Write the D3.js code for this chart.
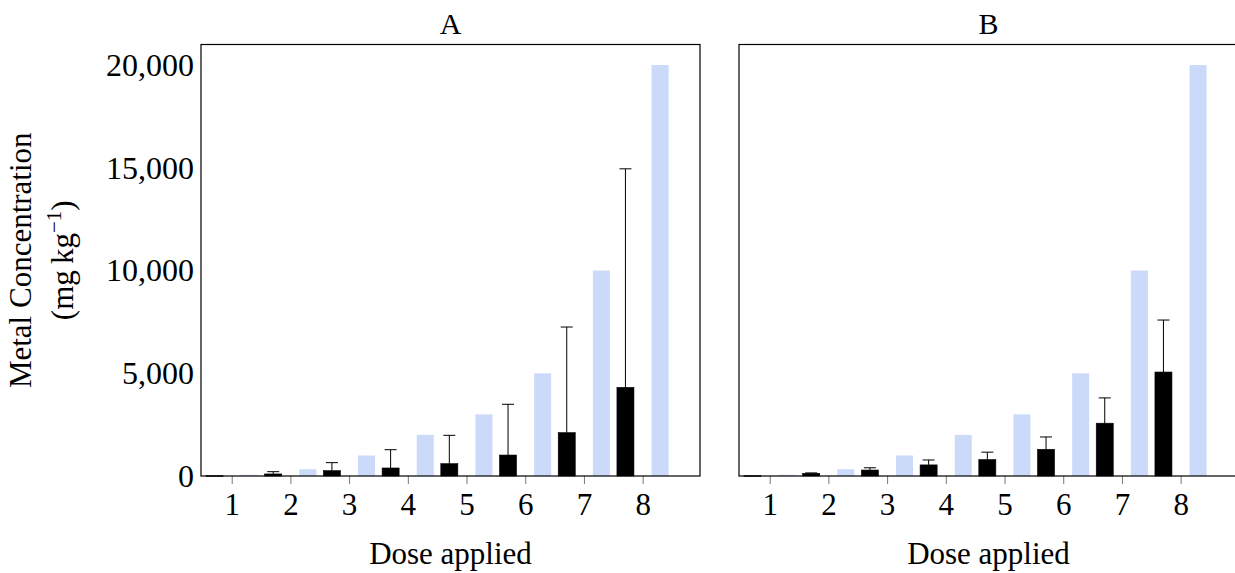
<!DOCTYPE html>
<html>
<head>
<meta charset="utf-8">
<script src="https://cdn.jsdelivr.net/npm/d3@7"></script>
<style>
  html, body { margin: 0; padding: 0; background: #fff; }
  svg { display: block; }
  text { font-family: "Liberation Serif", "DejaVu Serif", serif; fill: #000; }
</style>
</head>
<body>
<svg id="chart" width="1235" height="573"></svg>
<script>
// ---- data ----
const doses = [1, 2, 3, 4, 5, 6, 7, 8];
const appliedDose = [60, 330, 1000, 2000, 3000, 5000, 10000, 20000];
const metalA = [15, 100, 260, 390, 600, 1020, 2110, 4315];
const errA = [0, 110, 390, 890, 1380, 2470, 5140, 10635];
const metalB = [15, 130, 290, 540, 800, 1300, 2570, 5060];
const errB = [0, 20, 110, 240, 360, 600, 1230, 2530];
const yTicks = [0, 5000, 10000, 15000, 20000];
const panelTitles = ["A", "B"];
const xTitle = "Dose applied";

// ---- layout ----
const svg = d3.select("#chart");
const panels = [
  { title: panelTitles[0], left: 201, metal: metalA, err: errA, showY: true },
  { title: panelTitles[1], left: 739, metal: metalB, err: errB, showY: false }
];
const pw = 499, plotTop = 44.5, plotBottom = 476;
const y = d3.scaleLinear().domain([0, 21000]).range([plotBottom, plotTop]);
const blue = "#ccdafa";

panels.forEach(p => {
  const x = d3.scaleLinear().domain([0.477, 8.977]).range([p.left, p.left + pw]);
  const g = svg.append("g");
  const unit = x(2) - x(1);
  const bw = 0.29 * unit;
  const rows = doses.map((d, i) => ({ dose: d, applied: appliedDose[i], metal: p.metal[i], err: p.err[i] }));

  // applied dose bars (light blue)
  g.selectAll("rect.applied").data(rows).enter().append("rect")
    .attr("class", "applied")
    .attr("x", r => x(r.dose + 0.297) - bw / 2)
    .attr("width", bw)
    .attr("y", r => y(r.applied))
    .attr("height", r => plotBottom - y(r.applied))
    .attr("fill", blue);

  // metal concentration bars (black)
  g.selectAll("rect.metal").data(rows).enter().append("rect")
    .attr("class", "metal")
    .attr("x", r => x(r.dose - 0.293) - bw / 2)
    .attr("width", bw)
    .attr("y", r => y(r.metal))
    .attr("height", r => Math.max(0.6, plotBottom - y(r.metal)))
    .attr("fill", "#000")
    .attr("stroke", "#000")
    .attr("stroke-width", 0.6);

  // error bars (upper only)
  const withErr = rows.filter(r => r.err > 0);
  g.selectAll("line.errv").data(withErr).enter().append("line")
    .attr("class", "errv")
    .attr("x1", r => x(r.dose - 0.293)).attr("x2", r => x(r.dose - 0.293))
    .attr("y1", r => y(r.metal))
    .attr("y2", r => y(r.metal + r.err))
    .attr("stroke", "#000").attr("stroke-width", 1);
  g.selectAll("line.errc").data(withErr).enter().append("line")
    .attr("class", "errc")
    .attr("x1", r => x(r.dose - 0.293) - 6).attr("x2", r => x(r.dose - 0.293) + 6)
    .attr("y1", r => y(r.metal + r.err))
    .attr("y2", r => y(r.metal + r.err))
    .attr("stroke", "#000").attr("stroke-width", 1);

  // x axis
  const xAxis = d3.axisBottom(x).tickValues(doses).tickSize(8).tickSizeOuter(0).tickPadding(9)
    .tickFormat(d3.format("d"));
  const ax = svg.append("g").attr("transform", `translate(0,${plotBottom})`).call(xAxis);
  ax.select(".domain").remove();
  ax.selectAll(".tick line").attr("stroke", "#777").attr("stroke-width", 1);
  ax.selectAll(".tick text").style("font-size", "31px").attr("fill", "#000");

  // frame
  svg.append("rect")
    .attr("x", p.left).attr("y", plotTop)
    .attr("width", pw).attr("height", plotBottom - plotTop)
    .attr("fill", "none").attr("stroke", "#000").attr("stroke-width", 1.2);

  // y axis labels
  if (p.showY) {
    const yAxis = d3.axisLeft(y).tickValues(yTicks).tickSize(0).tickPadding(7)
      .tickFormat(d3.format(","));
    const ay = svg.append("g").attr("transform", `translate(${p.left},0)`).call(yAxis);
    ay.select(".domain").remove();
    ay.selectAll(".tick text").style("font-size", "32px").attr("fill", "#000");
  }

  // panel title
  svg.append("text")
    .attr("x", p.left + pw / 2).attr("y", 34)
    .attr("text-anchor", "middle")
    .style("font-size", "30px")
    .text(p.title);

  // x title
  svg.append("text")
    .attr("x", p.left + pw / 2).attr("y", 564)
    .attr("text-anchor", "middle")
    .style("font-size", "31px")
    .text(xTitle);
});

// y axis title
svg.append("text")
  .attr("transform", `translate(31,${(plotTop + plotBottom) / 2}) rotate(-90)`)
  .attr("text-anchor", "middle")
  .style("font-size", "31px")
  .text("Metal Concentration");
const yt2 = svg.append("text")
  .attr("transform", `translate(73,${(plotTop + plotBottom) / 2}) rotate(-90)`)
  .attr("text-anchor", "middle")
  .style("font-size", "31px");
yt2.append("tspan").text("(mg\u2009kg");
yt2.append("tspan").attr("dy", -12).style("font-size", "21px").text("\u22121");
yt2.append("tspan").attr("dy", 12).text(")");
</script>
</body>
</html>
